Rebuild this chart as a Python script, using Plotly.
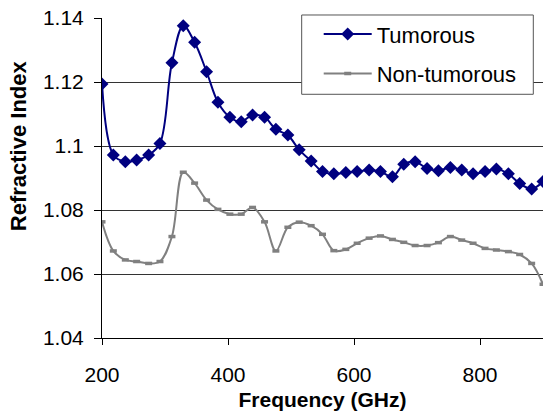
import plotly.graph_objects as go

freq_ghz = [200, 218, 237, 255, 274, 292, 311, 329, 347, 366, 384, 403, 421,
            439, 458, 476, 495, 513, 532, 550, 568, 587, 605, 624, 642, 661,
            679, 697, 716, 734, 753, 771, 789, 808, 826, 845, 863, 882, 900]

tumorous = [1.1194, 1.0972, 1.0951, 1.0956, 1.0972, 1.1008, 1.1260, 1.1376,
            1.1324, 1.1232, 1.1137, 1.1090, 1.1076, 1.1097, 1.1090, 1.1052,
            1.1034, 1.0988, 1.0953, 1.0920, 1.0913, 1.0917, 1.0920, 1.0925,
            1.0920, 1.0904, 1.0943, 1.0951, 1.0930, 1.0923, 1.0933, 1.0925,
            1.0913, 1.0920, 1.0928, 1.0913, 1.0883, 1.0866, 1.0889]

non_tumorous = [1.0763, 1.0672, 1.0644, 1.0639, 1.0633, 1.0639, 1.0717, 1.0918,
                1.0884, 1.0831, 1.0802, 1.0787, 1.0787, 1.0808, 1.0763, 1.0672,
                1.0746, 1.0762, 1.0751, 1.0724, 1.0673, 1.0677, 1.0696, 1.0712,
                1.0719, 1.0708, 1.0699, 1.0689, 1.0689, 1.0698, 1.0717, 1.0706,
                1.0696, 1.0680, 1.0675, 1.0670, 1.0661, 1.0633, 1.0568]

y_ticks = [1.04, 1.06, 1.08, 1.10, 1.12, 1.14]
y_tick_text = ["1.04", "1.06", "1.08", "1.1", "1.12", "1.14"]
x_ticks = [200, 400, 600, 800]

FONT = "Liberation Sans, Arial, sans-serif"

fig = go.Figure()
fig.add_trace(go.Scatter(
    x=freq_ghz, y=non_tumorous, name="Non-tumorous", mode="lines+markers",
    line=dict(color="#808080", width=2, shape="spline"),
    marker=dict(symbol="line-ew", size=5, line=dict(color="#808080", width=3.5)),
    legendgroup="b", legendrank=2,
))
fig.add_trace(go.Scatter(
    x=freq_ghz, y=tumorous, name="Tumorous", mode="lines+markers",
    line=dict(color="#000080", width=2, shape="spline"),
    marker=dict(symbol="diamond", size=10, color="#000080"),
    legendgroup="a", legendrank=1,
))

fig.update_layout(
    width=548, height=417,
    margin=dict(l=102, r=5, t=18, b=79),
    paper_bgcolor="white", plot_bgcolor="white",
    font=dict(family=FONT, size=21, color="black"),
    showlegend=True,
    legend=dict(
        x=0.4914, y=1.015, xanchor="left", yanchor="top",
        bgcolor="rgba(0,0,0,0)", borderwidth=0,
        font=dict(size=22, family=FONT), tracegroupgap=8,
        traceorder="grouped", itemwidth=48,
    ),
    shapes=[dict(
        type="rect", xref="paper", yref="paper",
        x0=0.4528, x1=0.978, y0=0.7616, y1=1.0094,
        fillcolor="white", line=dict(color="#555555", width=1), layer="above",
    )],
    xaxis=dict(
        range=[200, 900], tickvals=x_ticks, showgrid=False,
        showline=True, linecolor="black", linewidth=1,
        ticks="outside", ticklen=6, tickcolor="black",
        ticklabelstandoff=12, zeroline=False,
        title=dict(text="<b>Frequency (GHz)</b>", font=dict(size=21), standoff=7),
    ),
    yaxis=dict(
        range=[1.04, 1.14], tickvals=y_ticks, ticktext=y_tick_text,
        showgrid=True, gridcolor="#333333", gridwidth=1,
        showline=True, linecolor="black", linewidth=1,
        ticks="outside", ticklen=7, tickcolor="black",
        ticklabelstandoff=6, zeroline=False,
    ),
    annotations=[dict(
        text="<b>Refractive Index</b>", textangle=-90,
        xref="paper", yref="paper", x=-0.19, y=0.60,
        xanchor="center", yanchor="middle", showarrow=False,
        font=dict(size=22, family=FONT),
    )],
)

fig.write_html("out.html")
